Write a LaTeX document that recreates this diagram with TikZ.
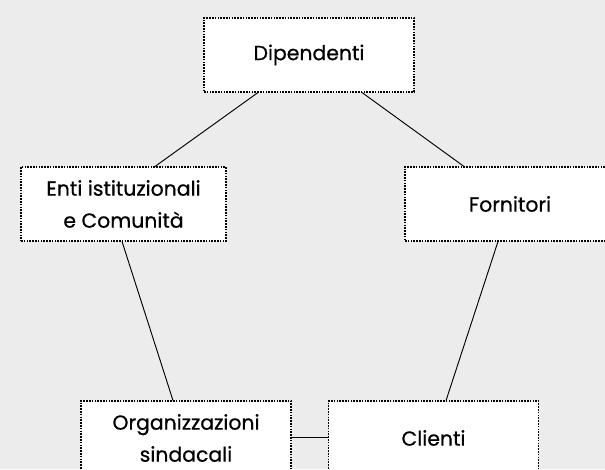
\documentclass[tikz,border=0pt]{standalone}
\usepackage{fontspec}
\setmainfont{Poppins}
\newfontfamily\boxfont{Poppins}[FakeBold=0.6]
\usepackage{tikz}
\usetikzlibrary{positioning}

\definecolor{pagebg}{HTML}{ECECEC}

\begin{document}
\begin{tikzpicture}[
	x = 0.75pt, y = -0.75pt,
	box/.style = {draw, fill=white, line width=0.8pt,
		dash pattern=on 1.2pt off 0.9pt,
		minimum width=157.5pt, minimum height=55.5pt,
		inner sep=0pt, align=center,
		font=\boxfont\fontsize{15.3}{24}\selectfont},
	link/.style = {line width=0.7pt}
	]
	\useasboundingbox (0,0) rectangle (605,469);
	\clip (0,0) rectangle (605,469);
	\fill[pagebg] (0,0) rectangle (605,469);
	% stakeholder boxes
	\node[box] (dip)  at (309,55)    {Dipendenti};
	\node[box, minimum width=153.75pt] (enti) at (123.5,204) {Enti istituzionali\\e Comunità};
	\node[box] (forn) at (510,204)   {Fornitori};
	\node[box] (org)  at (186,438)   {Organizzazioni\\sindacali};
	\node[box] (cli)  at (433.5,438) {Clienti};
	% links
	\draw[link] ([xshift=-38.25pt]dip.south) -- ([xshift=23.6pt]enti.north);
	\draw[link] ([xshift=39.75pt]dip.south)  -- ([xshift=-34.5pt]forn.north);
	\draw[link] ([xshift=-1.1pt]enti.south)  -- ([xshift=-9.75pt]org.north);
	\draw[link] ([xshift=-9pt]forn.south)    -- ([xshift=9.4pt]cli.north);
	\draw[link] ([yshift=0.75pt]org.east)    -- ([yshift=0.75pt]cli.west);
\end{tikzpicture}
\end{document}
